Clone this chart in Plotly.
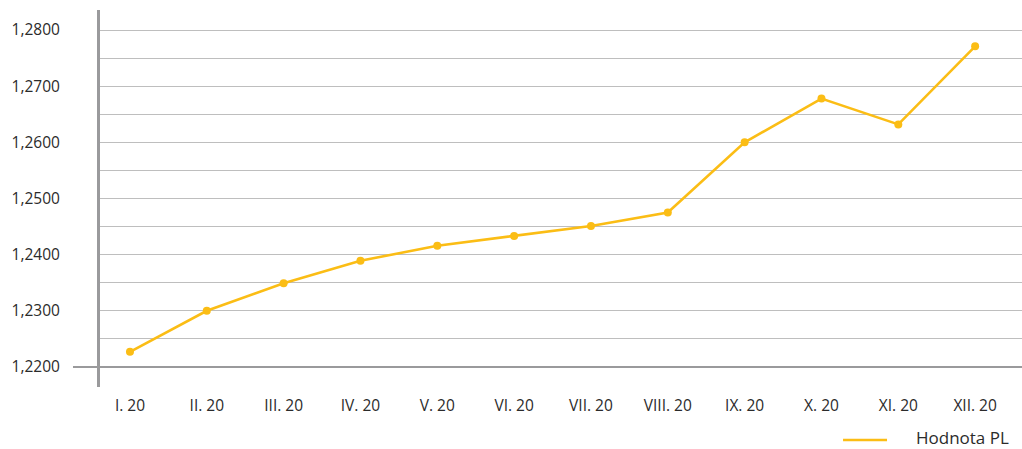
import plotly.graph_objects as go

months = ["I. 20", "II. 20", "III. 20", "IV. 20", "V. 20", "VI. 20",
          "VII. 20", "VIII. 20", "IX. 20", "X. 20", "XI. 20", "XII. 20"]
values = [1.2227, 1.2300, 1.2349, 1.2389, 1.2416, 1.2433,
          1.2451, 1.2475, 1.2600, 1.2678, 1.2632, 1.2771]
series_name = "Hodnota PL"
y_ticks = [1.22, 1.23, 1.24, 1.25, 1.26, 1.27, 1.28]

LINE = "#FBBD15"
GRID = "#BEBEBE"
AXIS = "#9A9A9C"
TEXT = "#2B2B2B"
FONT = "Open Sans"

x_idx = list(range(len(months)))

fig = go.Figure()
fig.add_trace(go.Scatter(
    x=x_idx, y=values, name=series_name, mode="lines+markers",
    line=dict(color=LINE, width=2.6),
    marker=dict(color=LINE, size=8),
    showlegend=False,
))

fig.update_layout(
    width=1022, height=449,
    margin=dict(l=100, r=0, t=10, b=62, autoexpand=False),
    paper_bgcolor="white", plot_bgcolor="white",
    separators=", ",
    font=dict(family=FONT, size=15.5, color=TEXT),
    showlegend=False,
    xaxis=dict(
        range=[-0.39, 11.61], tickmode="array", tickvals=x_idx, ticktext=months,
        showgrid=False, zeroline=False, showline=False,
        ticks="", ticklabelstandoff=7,
    ),
    yaxis=dict(
        range=[1.21643, 1.28357], tickmode="array", tickvals=y_ticks,
        tickformat=".4f",
        showgrid=True, gridcolor=GRID, gridwidth=1,
        minor=dict(dtick=0.005, tick0=1.22, showgrid=True, gridcolor=GRID, gridwidth=1),
        zeroline=False, showline=True, linecolor=AXIS, linewidth=3,
        ticks="", ticklabelstandoff=34,
    ),
)

# horizontal category axis line at the base value
fig.add_shape(type="line", xref="paper", yref="y", x0=-0.0293, x1=1,
              y0=y_ticks[0], y1=y_ticks[0], line=dict(color=AXIS, width=2), layer="above")

# legend (line sample + label)
fig.add_shape(type="line", xref="paper", yref="paper", x0=0.8059, x1=0.8536,
              y0=-0.1406, y1=-0.1406, line=dict(color=LINE, width=2.6))
fig.add_annotation(xref="paper", yref="paper", x=0.8840, y=-0.1340,
                   xanchor="left", yanchor="middle", showarrow=False,
                   borderpad=0,
                   text=series_name, font=dict(size=17, color=TEXT))

fig.write_html("out.html")
